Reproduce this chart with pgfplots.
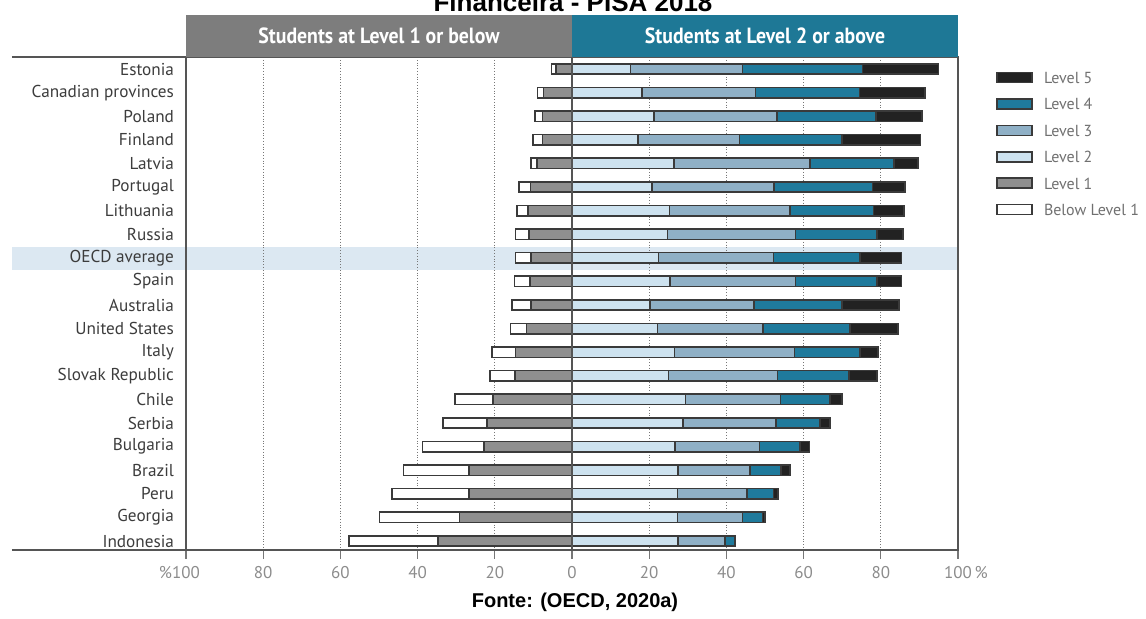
\documentclass[border=0pt]{standalone}
\usepackage{fontspec}
\setmainfont{PT Sans}
\newfontfamily\titlefont{Liberation Sans}
\newfontfamily\hdrfont{PT Sans}[FakeStretch=0.9]
\usepackage{pgfplots}
\usepackage{pgfplotstable}
\pgfplotsset{compat=1.18}

\definecolor{lvfive}{HTML}{222222}
\definecolor{lvfour}{HTML}{1F7A9C}
\definecolor{lvthree}{HTML}{8FB0C6}
\definecolor{lvtwo}{HTML}{CDE2EF}
\definecolor{lvone}{HTML}{8F8F8F}
\definecolor{barline}{HTML}{3A3A3A}
\definecolor{axisgrey}{HTML}{555555}
\definecolor{gridgrey}{HTML}{777777}
\definecolor{hdrgrey}{HTML}{7D7D7D}
\definecolor{hdrteal}{HTML}{1E7896}
\definecolor{bandblue}{HTML}{DCE8F2}
\definecolor{labeltext}{HTML}{3C3C3C}
\definecolor{ticktext}{HTML}{8C8C8C}
\definecolor{legtext}{HTML}{707070}

% share of students per proficiency level (row 0 = Estonia ... row 20 = Indonesia)
\pgfplotstableread{
row below lone ltwo lthree lfour lfive
0  1.1  4.2 15.2 29.0 31.1 19.6
1  1.5  7.4 18.1 29.4 27.0 16.9
2  2.0  7.6 21.2 31.9 25.6 12.0
3  2.5  7.6 17.1 26.3 26.6 20.3
4  1.6  9.0 26.5 35.2 21.7  6.3
5  3.0 10.8 20.7 31.7 25.4  8.5
6  2.8 11.4 25.3 31.1 21.7  7.9
7  3.5 11.1 24.7 33.2 21.1  6.7
8  4.0 10.6 22.4 29.8 22.4 10.8
9  4.0 10.9 25.4 32.5 21.1  6.4
10 5.0 10.6 20.2 27.0 22.8 14.7
11 4.1 11.8 22.1 27.4 22.5 12.5
12 6.2 14.6 26.6 31.0 17.0  4.7
13 6.5 14.8 25.0 28.2 18.6  7.2
14 9.8 20.5 29.4 24.6 12.8  3.2
15 11.4 22.0 28.7 24.2 11.4 2.5
16 15.9 22.8 26.7 21.9 10.5 2.4
17 17.0 26.7 27.5 18.6  8.0 2.3
18 20.0 26.7 27.3 18.0  6.9 1.1
19 20.8 29.1 27.3 16.9  5.2 0.6
20 23.0 34.7 27.5 12.2  2.4 0.1
}\fldata

\pgfplotsset{
  flbase/.style={
    width=386pt, height=246.5pt, scale only axis,
    xmin=-100, xmax=100, ymin=-0.51, ymax=20.38,
    y dir=reverse, xbar stacked, bar width=5.25pt,
  },
  seg/.style={fill=#1, draw=barline, line width=0.8pt},
  legimg/.style={legend image code/.code={
    \draw[fill=#1, draw=barline, line width=0.8pt] (0pt,-2.3pt) rectangle (17.5pt,2.7pt);}},
}

\begin{document}
\begin{tikzpicture}
% highlight band for the OECD average row
\fill[bandblue] (-87pt,140pt) rectangle (386pt,151.5pt);

\begin{axis}[
  flbase,
  axis line style={axisgrey, line width=0.8pt},
  xtick={-100,-80,...,100},
  xticklabels={\llap{\%}100,80,60,40,20,0,20,40,60,80,100\rlap{\,\%}},
  xtick pos=bottom, tick align=outside, major tick length=4.5pt,
  xtick style={gridgrey, line width=0.6pt},
  xticklabel style={font=\fontsize{8.5}{10}\selectfont, text=ticktext},
  /pgf/number format/assume math mode=true,
  xmajorgrids, grid style={densely dotted, gridgrey, line width=0.6pt},
  ytick={0,...,20}, ytick style={draw=none},
  yticklabels={Estonia,Canadian provinces,Poland,Finland,Latvia,Portugal,Lithuania,Russia,OECD average,Spain,Australia,United States,Italy,Slovak Republic,Chile,Serbia,Bulgaria,Brazil,Peru,Georgia,Indonesia},
  yticklabel style={font=\fontsize{8.6}{10}\selectfont, text=labeltext, xshift=2pt},
  legend style={at={(1,1)}, anchor=north west, xshift=19pt, yshift=-7.2pt,
    draw=none, fill=none, inner sep=0pt,
    font=\fontsize{8}{9.6}\selectfont, text=legtext,
    nodes={inner sep=0pt, text height=5.6pt, text depth=0pt},
    row sep=7.3pt, /tikz/every odd column/.style={column sep=5.5pt}},
  legend cell align=left,
]
\addlegendimage{legimg=lvfive}\addlegendentry{Level 5}
\addlegendimage{legimg=lvfour}\addlegendentry{Level 4}
\addlegendimage{legimg=lvthree}\addlegendentry{Level 3}
\addlegendimage{legimg=lvtwo}\addlegendentry{Level 2}
\addlegendimage{legimg=lvone}\addlegendentry{Level 1}
\addlegendimage{legimg=white}\addlegendentry{Below Level 1}
\addplot[seg=lvone, forget plot] table[x expr=-\thisrow{lone}, y=row]{\fldata};
\addplot[seg=white, forget plot] table[x expr=-\thisrow{below}, y=row]{\fldata};
\end{axis}

\begin{axis}[flbase, hide axis]
\addplot[seg=lvtwo] table[x=ltwo, y=row]{\fldata};
\addplot[seg=lvthree] table[x=lthree, y=row]{\fldata};
\addplot[seg=lvfour] table[x=lfour, y=row]{\fldata};
\addplot[seg=lvfive] table[x=lfive, y=row]{\fldata};
\end{axis}

% centre line, headers and extended rules
\draw[axisgrey, line width=0.9pt] (193pt,0) -- (193pt,246.5pt);
\draw[axisgrey, line width=0.8pt] (-87pt,0) -- (0,0);
\draw[axisgrey, line width=0.8pt] (-87pt,246.5pt) -- (0,246.5pt);
\fill[hdrgrey] (0,246.5pt) rectangle (193pt,267.5pt);
\fill[hdrteal] (193pt,246.5pt) rectangle (386pt,267.5pt);
\node[text=white, font=\hdrfont\bfseries\fontsize{11}{13}\selectfont] at (96.5pt,257pt) {Students at Level 1 or below};
\node[text=white, font=\hdrfont\bfseries\fontsize{11}{13}\selectfont] at (289.5pt,257pt) {Students at Level 2 or above};

\node[anchor=base, font=\titlefont\bfseries\fontsize{13}{15}\selectfont] at (193.5pt,269pt) {Financeira - PISA 2018};
\node[anchor=base, font=\titlefont\bfseries\fontsize{10}{12}\selectfont] at (194.5pt,-29pt) {Fonte: (OECD, 2020a)};

\pgfresetboundingbox
\useasboundingbox (-93pt,-34.5pt) rectangle (480pt,275pt);
\end{tikzpicture}
\end{document}
